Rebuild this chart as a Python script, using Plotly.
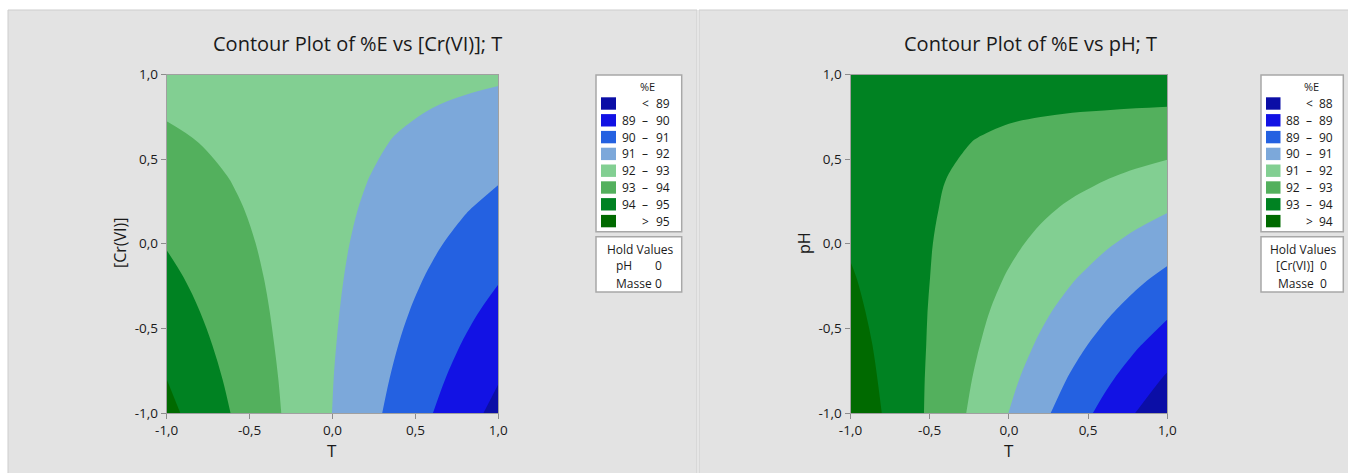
import plotly.graph_objects as go

W, H = 1348, 473

# ---------------- data ----------------
GRID = [-1.0, -0.8, -0.6, -0.4, -0.2, 0.0, 0.2, 0.4, 0.6, 0.8, 1.0]
TICK_VALS = [-1.0, -0.5, 0.0, 0.5, 1.0]
TICK_TEXT = ["-1,0", "-0,5", "0,0", "0,5", "1,0"]

# %E vs [Cr(VI)] (rows) and T (columns)
E_CR_T = [
    [95.27, 94.61, 93.95, 93.30, 92.64, 91.99, 91.33, 90.67, 90.02, 89.36, 88.71],
    [95.00, 94.41, 93.81, 93.22, 92.62, 92.02, 91.43, 90.83, 90.24, 89.64, 89.05],
    [94.74, 94.20, 93.67, 93.13, 92.60, 92.06, 91.53, 90.99, 90.46, 89.92, 89.39],
    [94.48, 94.00, 93.53, 93.05, 92.58, 92.10, 91.63, 91.15, 90.68, 90.20, 89.73],
    [94.21, 93.80, 93.38, 92.97, 92.56, 92.14, 91.73, 91.31, 90.90, 90.48, 90.07],
    [93.95, 93.60, 93.24, 92.89, 92.53, 92.18, 91.83, 91.47, 91.12, 90.76, 90.41],
    [93.69, 93.39, 93.10, 92.81, 92.51, 92.22, 91.93, 91.63, 91.34, 91.04, 90.75],
    [93.42, 93.19, 92.96, 92.72, 92.49, 92.26, 92.03, 91.79, 91.56, 91.33, 91.09],
    [93.16, 92.99, 92.82, 92.64, 92.47, 92.30, 92.12, 91.95, 91.78, 91.61, 91.43],
    [92.90, 92.79, 92.67, 92.56, 92.45, 92.34, 92.22, 92.11, 92.00, 91.89, 91.77],
    [92.64, 92.58, 92.53, 92.48, 92.43, 92.38, 92.32, 92.27, 92.22, 92.17, 92.12],
]

# %E vs pH (rows) and T (columns)
E_PH_T = [
    [94.74, 93.99, 93.24, 92.49, 91.74, 90.99, 90.24, 89.49, 88.74, 87.99, 87.24],
    [94.57, 93.90, 93.23, 92.56, 91.89, 91.22, 90.55, 89.88, 89.21, 88.54, 87.87],
    [94.41, 93.82, 93.23, 92.64, 92.05, 91.46, 90.87, 90.28, 89.69, 89.10, 88.51],
    [94.24, 93.73, 93.22, 92.71, 92.20, 91.69, 91.18, 90.67, 90.17, 89.66, 89.15],
    [94.08, 93.65, 93.22, 92.79, 92.36, 91.93, 91.50, 91.07, 90.64, 90.21, 89.78],
    [93.91, 93.56, 93.21, 92.86, 92.51, 92.17, 91.82, 91.47, 91.12, 90.77, 90.42],
    [93.75, 93.48, 93.21, 92.94, 92.67, 92.40, 92.13, 91.86, 91.60, 91.33, 91.06],
    [93.58, 93.39, 93.20, 93.01, 92.83, 92.64, 92.45, 92.26, 92.07, 91.88, 91.69],
    [93.42, 93.31, 93.20, 93.09, 92.98, 92.87, 92.77, 92.66, 92.55, 92.44, 92.33],
    [93.25, 93.22, 93.19, 93.17, 93.14, 93.11, 93.08, 93.05, 93.03, 93.00, 92.97],
    [93.09, 93.14, 93.19, 93.24, 93.29, 93.35, 93.40, 93.45, 93.50, 93.55, 93.61],
]

LEVELS_L = [89, 90, 91, 92, 93, 94, 95]
LEVELS_R = [88, 89, 90, 91, 92, 93, 94]
BAND_COLORS = ["#0b0ea6", "#1212e4", "#2461e1", "#7ca8da",
               "#82cf92", "#53b05d", "#008222", "#006a00"]

TITLE_L = "Contour Plot of %E vs [Cr(VI)]; T"
TITLE_R = "Contour Plot of %E vs pH; T"
YLABEL_L = "[Cr(VI)]"
YLABEL_R = "pH"
XLABEL = "T"
HOLD_L = [("pH", "0"), ("Masse", "0")]
HOLD_R = [("[Cr(VI)]", "0"), ("Masse", "0")]

FONT = "Open Sans"
TXT = "#1a1a1a"

def px(x):
    return x / W

def py(y):
    return 1 - y / H

def colorscale(colors):
    n = len(colors) - 1
    return [[i / n, c] for i, c in enumerate(colors)]

fig = go.Figure()

for z, lv, xa, ya in [(E_CR_T, LEVELS_L, "x", "y"), (E_PH_T, LEVELS_R, "x2", "y2")]:
    fig.add_trace(go.Contour(
        x=GRID, y=GRID, z=z, xaxis=xa, yaxis=ya,
        autocontour=False,
        contours=dict(start=lv[0], end=lv[-1], size=1, coloring="fill", showlines=False),
        line=dict(width=0, smoothing=1),
        colorscale=colorscale(BAND_COLORS), showscale=False, hoverinfo="skip",
    ))

Y0, Y1 = 74.5, 413.0
dom_y = [py(Y1), py(Y0)]
axis_common = dict(
    range=[-1, 1], tickvals=TICK_VALS, ticktext=TICK_TEXT, ticks="outside", ticklen=5,
    tickcolor="#8c8c8c", showgrid=False, zeroline=False, showline=True, mirror=True,
    linecolor="#a0a0a0", linewidth=1, automargin=False,
    tickfont=dict(family=FONT, size=13.5, color=TXT),
)
fig.update_layout(
    xaxis=dict(domain=[px(166.7), px(498.3)], anchor="y", **axis_common),
    yaxis=dict(domain=dom_y, anchor="x", **axis_common),
    xaxis2=dict(domain=[px(850.5), px(1167.3)], anchor="y2", **axis_common),
    yaxis2=dict(domain=dom_y, anchor="x2", **axis_common),
)

shapes = []
ann = []

# panel backgrounds
shapes.append(dict(type="rect", xref="paper", yref="paper", layer="below",
                   x0=px(8), x1=px(697), y0=py(475), y1=py(10),
                   fillcolor="#e3e3e3", line=dict(color="#cdcdcd", width=1)))
shapes.append(dict(type="rect", xref="paper", yref="paper", layer="below",
                   x0=px(699), x1=px(1350), y0=py(475), y1=py(10),
                   fillcolor="#e3e3e3", line=dict(color="#cdcdcd", width=1)))

def text(x, y, s, size=12, xanchor="center", angle=0):
    ann.append(dict(x=px(x), y=py(y), xref="paper", yref="paper", text=s, showarrow=False,
                    xanchor=xanchor, yanchor="middle", textangle=angle,
                    font=dict(family=FONT, size=size, color=TXT)))

# titles & axis labels
text(357, 43, TITLE_L, size=20)
text(1030, 43, TITLE_R, size=20)
text(332, 450, XLABEL, size=17)
text(1009, 450, XLABEL, size=17)
text(120, 243, YLABEL_L, size=16, angle=-90)
text(804, 243, YLABEL_R, size=16, angle=-90)

def legend(x0, x1, sw0, sw1, c1, c2, c3, levels, hold, hold_label_x, hold_val_x, title_x, hold_title_x):
    shapes.append(dict(type="rect", xref="paper", yref="paper", x0=px(x0), x1=px(x1),
                       y0=py(231.7), y1=py(75), fillcolor="white",
                       line=dict(color="#a8a8a8", width=1.5)))
    shapes.append(dict(type="rect", xref="paper", yref="paper", x0=px(x0), x1=px(x1),
                       y0=py(292), y1=py(236.7), fillcolor="white",
                       line=dict(color="#a8a8a8", width=1.5)))
    text(title_x, 86, "%E", size=11)
    step = 16.8
    for i in range(len(BAND_COLORS)):
        yc = 103.5 + i * step
        shapes.append(dict(type="rect", xref="paper", yref="paper", x0=px(sw0), x1=px(sw1),
                           y0=py(yc + 6.2), y1=py(yc - 6.2), fillcolor=BAND_COLORS[i],
                           line=dict(width=0)))
        if i == 0:
            text(c2, yc, "<", xanchor="center")
            text(c3, yc, str(levels[0]), xanchor="right")
        elif i == len(BAND_COLORS) - 1:
            text(c2, yc, ">", xanchor="center")
            text(c3, yc, str(levels[-1]), xanchor="right")
        else:
            text(c1, yc, str(levels[i - 1]), xanchor="right")
            text(c2, yc, "–", xanchor="center")
            text(c3, yc, str(levels[i]), xanchor="right")
    text(hold_title_x, 249.5, "Hold Values", size=12)
    for j, (k, v) in enumerate(hold):
        yc = 265 + j * 18.5
        text(hold_label_x[j], yc, k, size=12)
        text(hold_val_x, yc, v, size=12)

legend(596, 681.7, 601, 616, 637.5, 645, 672, LEVELS_L, HOLD_L, [623.5, 633.5], 658.5, 647.3, 640)
legend(1261, 1343.3, 1266, 1280.5, 1302, 1309, 1334.5, LEVELS_R, HOLD_R, [1295, 1296], 1323.5, 1311, 1303.3)

fig.update_layout(
    width=W, height=H, margin=dict(l=0, r=0, t=0, b=0, autoexpand=False),
    paper_bgcolor="white", plot_bgcolor="#e3e3e3",
    shapes=shapes, annotations=ann, showlegend=False,
    font=dict(family=FONT, color=TXT),
)

fig.write_html("out.html", config={"displayModeBar": False},
               post_script="document.body.style.margin='0';document.body.style.overflow='hidden';")
